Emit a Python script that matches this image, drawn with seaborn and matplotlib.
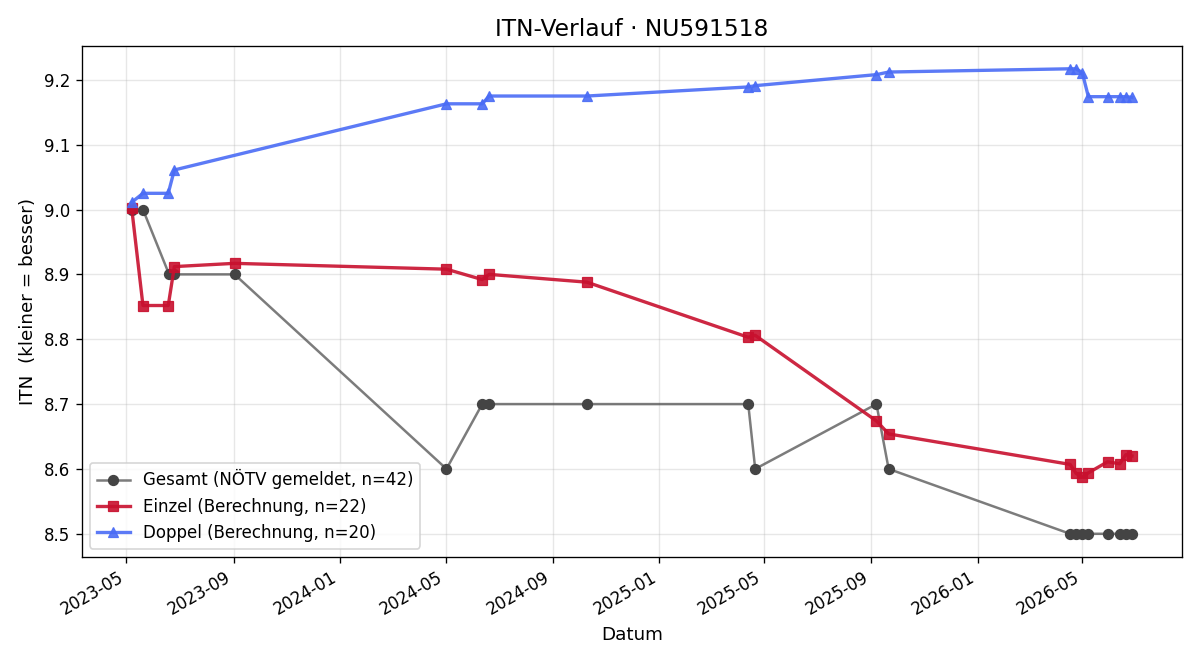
import matplotlib
matplotlib.use("Agg")
import matplotlib.pyplot as plt
import matplotlib.dates as mdates
import pandas as pd
import seaborn as sns

# Daten
gesamt_dates = ['2023-05-07', '2023-05-20', '2023-06-19', '2023-06-25', '2023-09-02',
                '2024-05-02', '2024-06-12', '2024-06-20', '2024-10-10', '2025-04-13',
                '2025-04-21', '2025-09-07', '2025-09-21', '2026-04-17', '2026-04-24',
                '2026-05-01', '2026-05-08', '2026-05-30', '2026-06-13', '2026-06-20',
                '2026-06-27']
gesamt_itn = [9.0, 9.0, 8.9, 8.9, 8.9, 8.6, 8.7, 8.7, 8.7, 8.7, 8.6, 8.7, 8.6,
              8.5, 8.5, 8.5, 8.5, 8.5, 8.5, 8.5, 8.5]

einzel_dates = ['2023-05-07', '2023-05-20', '2023-06-18', '2023-06-25', '2023-09-02',
                '2024-05-02', '2024-06-12', '2024-06-20', '2024-10-10', '2025-04-13',
                '2025-04-21', '2025-09-07', '2025-09-21', '2026-04-17', '2026-04-24',
                '2026-05-01', '2026-05-08', '2026-05-30', '2026-06-13', '2026-06-20',
                '2026-06-27']
einzel_itn = [9.003, 8.852, 8.852, 8.912, 8.917, 8.908, 8.892, 8.900, 8.888, 8.803,
              8.806, 8.674, 8.654, 8.607, 8.593, 8.587, 8.594, 8.611, 8.608, 8.622,
              8.620]

doppel_dates = ['2023-05-07', '2023-05-20', '2023-06-18', '2023-06-25', '2024-05-02',
                '2024-06-12', '2024-06-20', '2024-10-10', '2025-04-13', '2025-04-21',
                '2025-09-07', '2025-09-21', '2026-04-17', '2026-04-24', '2026-05-01',
                '2026-05-08', '2026-05-30', '2026-06-13', '2026-06-20', '2026-06-27']
doppel_itn = [9.011, 9.025, 9.025, 9.061, 9.163, 9.163, 9.175, 9.175, 9.189, 9.191,
              9.208, 9.212, 9.217, 9.217, 9.211, 9.174, 9.174, 9.174, 9.174, 9.173]

df_g = pd.DataFrame({'Datum': pd.to_datetime(gesamt_dates), 'ITN': gesamt_itn})
df_e = pd.DataFrame({'Datum': pd.to_datetime(einzel_dates), 'ITN': einzel_itn})
df_d = pd.DataFrame({'Datum': pd.to_datetime(doppel_dates), 'ITN': doppel_itn})

fig, ax = plt.subplots(figsize=(10, 5.5), dpi=120)

sns.lineplot(data=df_g, x='Datum', y='ITN', ax=ax, estimator=None, marker='o',
             markersize=6, linewidth=1.5, color='#444444',
             label='Gesamt (NÖTV gemeldet, n=42)')
ln = ax.lines[-1]
ln.set_color((0.27, 0.27, 0.27, 0.7))
ln.set_markerfacecolor('#444444')
ln.set_markeredgecolor('#444444')

sns.lineplot(data=df_e, x='Datum', y='ITN', ax=ax, estimator=None, marker='s',
             markersize=6, linewidth=2, color='#c8102e', alpha=0.9,
             markeredgecolor='#c8102e', label='Einzel (Berechnung, n=22)')
sns.lineplot(data=df_d, x='Datum', y='ITN', ax=ax, estimator=None, marker='^',
             markersize=6, linewidth=2, color='#4a6cf5', alpha=0.9,
             markeredgecolor='#4a6cf5', label='Doppel (Berechnung, n=20)')

ax.set_title('ITN-Verlauf · NU591518', fontsize=14)
ax.set_xlabel('Datum', fontsize=11)
ax.set_ylabel('ITN  (kleiner = besser)', fontsize=11)
ax.grid(True, alpha=0.3)
ax.xaxis.set_major_locator(mdates.MonthLocator(bymonth=[1, 5, 9]))
ax.xaxis.set_major_formatter(mdates.DateFormatter('%Y-%m'))
ax.legend(loc='lower left', fontsize=10)
fig.autofmt_xdate()

plt.subplots_adjust(left=0.068, right=0.985, top=0.931, bottom=0.156)
plt.savefig('out.png', dpi=120)
